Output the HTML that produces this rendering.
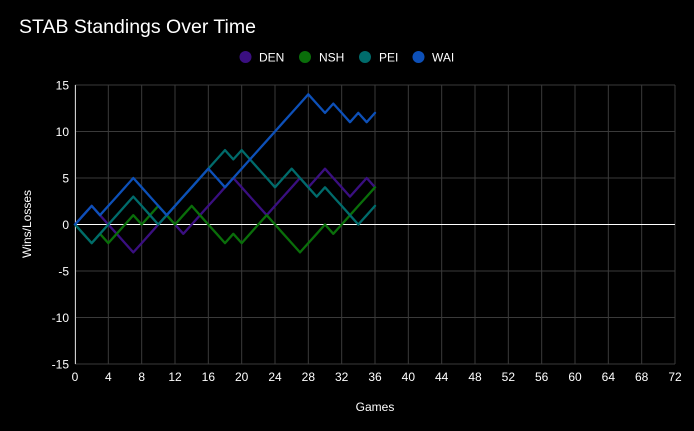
<!DOCTYPE html>
<html><head><meta charset="utf-8"><style>
html,body{margin:0;padding:0;background:#000;}
svg{display:block;font-family:"Liberation Sans",sans-serif;}
</style></head><body>
<svg id="s" width="694" height="431" xmlns="http://www.w3.org/2000/svg">
<rect width="694" height="431" fill="#000"/>
<text x="19" y="33" fill="#fff" font-size="19.5">STAB Standings Over Time</text>
<circle cx="245.5" cy="57" r="6" fill="#3a0f80"/><text x="259" y="61.5" fill="#fff" font-size="12">DEN</text>
<circle cx="305" cy="57" r="6" fill="#0a6e0a"/><text x="319" y="61.5" fill="#fff" font-size="12">NSH</text>
<circle cx="365" cy="57" r="6" fill="#006b6b"/><text x="379" y="61.5" fill="#fff" font-size="12">PEI</text>
<circle cx="418.5" cy="57" r="6" fill="#0d50b8"/><text x="432" y="61.5" fill="#fff" font-size="12">WAI</text>
<g id="g"></g>
<text x="375" y="411" fill="#fff" font-size="12" text-anchor="middle">Games</text>
<text transform="translate(31,224) rotate(-90)" fill="#fff" font-size="12" text-anchor="middle">Wins/Losses</text>
</svg>
<script>
var g=document.getElementById('g'),h='';
function X(v){return 75+v*600/72}function Y(v){return 224.5-v*9.3}
for(var i=0;i<=72;i+=4){h+='<line x1="'+X(i)+'" y1="85" x2="'+X(i)+'" y2="364" stroke="#3a3a3a" stroke-width="1"/>';
h+='<text x="'+X(i)+'" y="381" fill="#fff" font-size="12" text-anchor="middle">'+i+'</text>';}
for(var v=-15;v<=15;v+=5){h+='<line x1="75" y1="'+Y(v)+'" x2="675" y2="'+Y(v)+'" stroke="'+(v==0?'#fff':'#3a3a3a')+'" stroke-width="1"/>';
h+='<text x="69" y="'+(Y(v)+4.5)+'" fill="#fff" font-size="12" text-anchor="end">'+v+'</text>';}
h+='<line x1="75.5" y1="85" x2="75.5" y2="364" stroke="#ccc" stroke-width="1"/>';
function path(k){var a=[],cur=k[0][1];for(var j=0;j<k.length;j++){if(j>0){var g0=k[j-1][0],v0=k[j-1][1],g1=k[j][0],v1=k[j][1];for(var t=g0+1;t<=g1;t++)a.push([t,v0+(v1-v0)*(t-g0)/(g1-g0)]);}else a.push(k[0]);}
return a.map(function(p){return X(p[0]).toFixed(1)+','+Y(p[1]).toFixed(1)}).join(' ');}
var S=[
['#3a0f80',[[0,0],[2,2],[3,1],[7,-3],[11,1],[13,-1],[19,5],[23,1],[27,5],[28,4],[30,6],[33,3],[35,5],[36,4]]],
['#0a6e0a',[[0,0],[2,-2],[3,-1],[4,-2],[7,1],[8,0],[10,2],[12,0],[14,2],[18,-2],[19,-1],[20,-2],[23,1],[27,-3],[30,0],[31,-1],[36,4]]],
['#006b6b',[[0,0],[2,-2],[7,3],[10,0],[18,8],[19,7],[20,8],[24,4],[26,6],[29,3],[30,4],[34,0],[36,2]]],
['#0d50b8',[[0,0],[2,2],[3,1],[7,5],[11,1],[16,6],[18,4],[28,14],[30,12],[31,13],[33,11],[34,12],[35,11],[36,12]]]];
S.forEach(function(s){h+='<polyline points="'+path(s[1])+'" fill="none" stroke="'+s[0]+'" stroke-width="2.3" stroke-linejoin="round" stroke-linecap="round"/>';});
g.innerHTML=h;
</script>
</body></html>
